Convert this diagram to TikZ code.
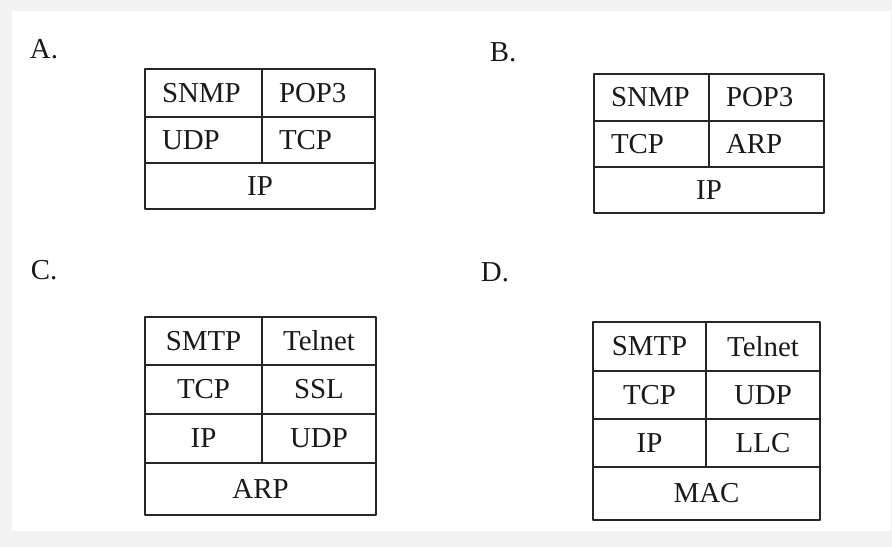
\documentclass[tikz,border=0pt]{standalone}
\usepackage{fontspec}
\setmainfont{Liberation Serif}
\newcommand{\cellfont}{\fontsize{29}{32}\selectfont}
\begin{document}
\begin{tikzpicture}[>=latex,line join=bevel,
  cell/.style={draw=black!85,line width=1.5pt,inner sep=0pt,text=black!90,font=\cellfont},
  leftcell/.style={cell,inner xsep=17bp,align=left},
  tag/.style={text=black!90,font=\cellfont}]
\useasboundingbox (0bp,0bp) rectangle (892bp,547bp);
\fill [black!5] (0bp,0bp) rectangle (892bp,547bp);
\fill [white] (12bp,16bp) rectangle (891bp,536bp);
%% A
\node (tag_a) at (44bp,498bp) [tag] {A.};
  \node (node_a1) at (203.5bp,454bp) [leftcell,minimum width=117bp,minimum height=48bp,text width=83bp] {SNMP};
  \node (node_a2) at (318.5bp,454bp) [leftcell,minimum width=113bp,minimum height=48bp,text width=79bp] {POP3};
  \node (node_a3) at (203.5bp,407bp) [leftcell,minimum width=117bp,minimum height=46bp,text width=83bp] {UDP};
  \node (node_a4) at (318.5bp,407bp) [leftcell,minimum width=113bp,minimum height=46bp,text width=79bp] {TCP};
  \node (node_a5) at (260bp,361bp) [cell,minimum width=230bp,minimum height=46bp] {IP};
%% B
\node (tag_b) at (503bp,495bp) [tag] {B.};
  \node (node_b1) at (651.5bp,449.5bp) [leftcell,minimum width=115bp,minimum height=47bp,text width=81bp] {SNMP};
  \node (node_b2) at (766.5bp,449.5bp) [leftcell,minimum width=115bp,minimum height=47bp,text width=81bp] {POP3};
  \node (node_b3) at (651.5bp,403bp) [leftcell,minimum width=115bp,minimum height=46bp,text width=81bp] {TCP};
  \node (node_b4) at (766.5bp,403bp) [leftcell,minimum width=115bp,minimum height=46bp,text width=81bp] {ARP};
  \node (node_b5) at (709bp,357bp) [cell,minimum width=230bp,minimum height=46bp] {IP};
%% C
\node (tag_c) at (44bp,277bp) [tag] {C.};
  \node (node_c1) at (203.5bp,206bp) [cell,minimum width=117bp,minimum height=48bp] {SMTP};
  \node (node_c2) at (319bp,206bp) [cell,minimum width=114bp,minimum height=48bp] {Telnet};
  \node (node_c3) at (203.5bp,157.5bp) [cell,minimum width=117bp,minimum height=49bp] {TCP};
  \node (node_c4) at (319bp,157.5bp) [cell,minimum width=114bp,minimum height=49bp] {SSL};
  \node (node_c5) at (203.5bp,108.5bp) [cell,minimum width=117bp,minimum height=49bp] {IP};
  \node (node_c6) at (319bp,108.5bp) [cell,minimum width=114bp,minimum height=49bp] {UDP};
  \node (node_c7) at (260.5bp,58bp) [cell,minimum width=231bp,minimum height=52bp] {ARP};
%% D
\node (tag_d) at (495bp,275bp) [tag] {D.};
  \node (node_d1) at (649.5bp,200.5bp) [cell,minimum width=113bp,minimum height=49bp] {SMTP};
  \node (node_d2) at (763bp,200.5bp) [cell,minimum width=114bp,minimum height=49bp] {Telnet};
  \node (node_d3) at (649.5bp,152bp) [cell,minimum width=113bp,minimum height=48bp] {TCP};
  \node (node_d4) at (763bp,152bp) [cell,minimum width=114bp,minimum height=48bp] {UDP};
  \node (node_d5) at (649.5bp,104bp) [cell,minimum width=113bp,minimum height=48bp] {IP};
  \node (node_d6) at (763bp,104bp) [cell,minimum width=114bp,minimum height=48bp] {LLC};
  \node (node_d7) at (706.5bp,53.5bp) [cell,minimum width=227bp,minimum height=53bp] {MAC};
%
\end{tikzpicture}
\end{document}
